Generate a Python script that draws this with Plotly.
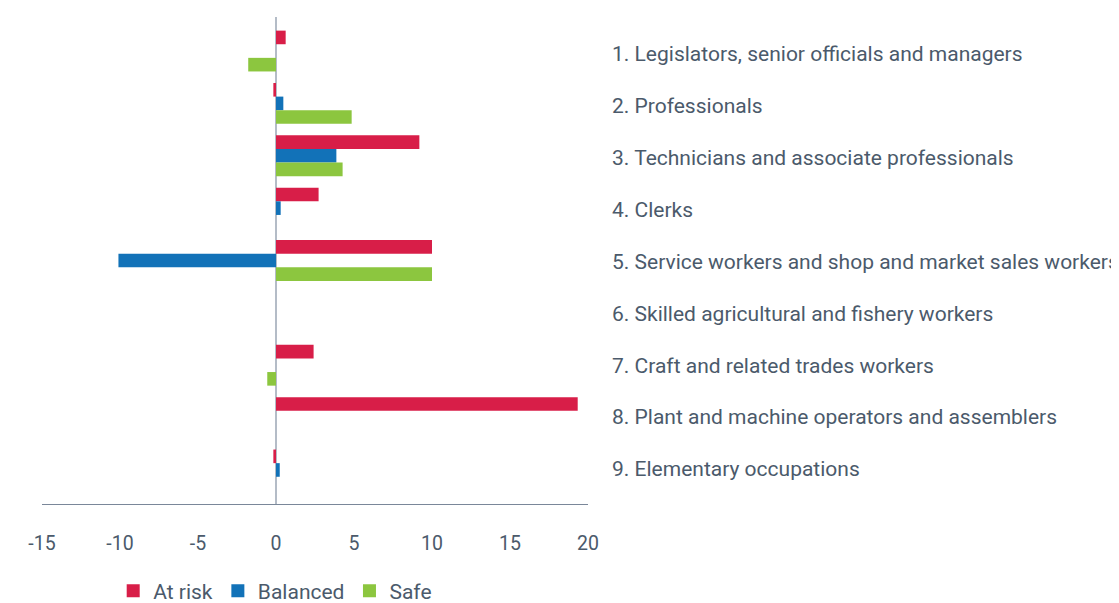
import plotly.graph_objects as go

categories = [
    "1. Legislators, senior officials and managers",
    "2. Professionals",
    "3. Technicians and associate professionals",
    "4. Clerks",
    "5. Service workers and shop and market sales workers",
    "6. Skilled agricultural and fishery workers",
    "7. Craft and related trades workers",
    "8. Plant and machine operators and assemblers",
    "9. Elementary occupations",
]
at_risk = [0.62, -0.17, 9.19, 2.73, 10.0, 0, 2.41, 19.34, -0.17]
balanced = [0, 0.47, 3.87, 0.3, -10.1, 0, 0, 0, 0.24]
safe = [-1.78, 4.85, 4.27, 0, 10.0, 0, -0.56, 0, 0]
x_ticks = [-15, -10, -5, 0, 5, 10, 15, 20]
x_tick_labels = ["-15", "-10", "-5", "0", "5", "10", "15", "20"]

positions = list(range(len(categories)))
TEXT = "#4b5a6b"
series = [
    ("At risk", at_risk, "#d81e48"),
    ("Balanced", balanced, "#1272b8"),
    ("Safe", safe, "#8cc63f"),
]

fig = go.Figure()
for name, vals, color in series:
    fig.add_trace(go.Bar(y=positions, x=vals, name=name, orientation="h",
                         legendgroup=name, showlegend=False,
                         marker=dict(color=color, line=dict(width=0))))
# legend entries with square swatches (no data points)
for name, vals, color in series:
    fig.add_trace(go.Scatter(x=[None], y=[None], name=name, mode="markers",
                             legendgroup=name, yaxis="y2",
                             marker=dict(symbol="square", size=13, color=color)))

# page body has an 8px margin, so figure coords = page coords - 8;
# figure sized so it ends exactly at the window's edges (no scrollbars)
fig.update_layout(
    width=1111, height=595,
    margin=dict(l=34, r=531, t=9, b=99),
    paper_bgcolor="white", plot_bgcolor="white",
    font=dict(family="Roboto", color=TEXT, size=19),
    barmode="group", bargap=0.22, bargroupgap=0.0,
    showlegend=True,
    legend=dict(orientation="h", xref="container", yref="container",
                x=0.2405, xanchor="center", y=0.0202, yanchor="middle",
                itemsizing="trace", font=dict(size=21, color=TEXT)),
    xaxis=dict(range=[-15, 20], tickvals=x_ticks, ticktext=x_tick_labels, showgrid=False,
               showline=True, linecolor="#7a8799", linewidth=1,
               zeroline=True, zerolinecolor="#b4bcc7", zerolinewidth=1.5,
               ticks="", ticklabelstandoff=22, automargin=False,
               tickfont=dict(size=19.5, color=TEXT), fixedrange=True),
    yaxis=dict(range=[8.65, -0.65], showticklabels=False,
               showgrid=False, showline=False, zeroline=False,
               ticks="", automargin=False, fixedrange=True),
    yaxis2=dict(overlaying="y", side="right", range=[8.675, -0.713],
                tickvals=positions, ticktext=categories,
                showgrid=False, showline=False, zeroline=False,
                ticks="", ticklabelstandoff=23, automargin=False,
                tickfont=dict(size=21, color=TEXT), fixedrange=True),
)

fig.write_html("out.html")
